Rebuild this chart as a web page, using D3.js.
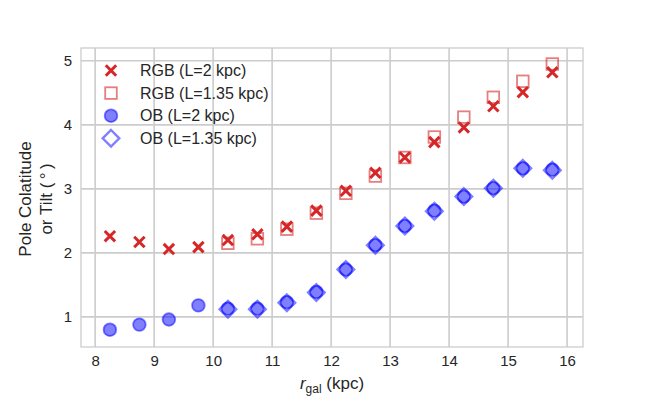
<!DOCTYPE html>
<html lang="en">
<head>
<meta charset="UTF-8">
<title>pole colatitude</title>
<script src="https://cdn.jsdelivr.net/npm/d3@7/dist/d3.min.js"></script>
<style>
  body { margin: 0; background: #fff; }
  text { font-family: "Liberation Sans", Arial, sans-serif; fill: #262626; }
</style>
</head>
<body>
<script>
// radii of the bins (kpc)
var rgal = [8.25, 8.75, 9.25, 9.75, 10.25, 10.75, 11.25, 11.75, 12.25, 12.75, 13.25, 13.75, 14.25, 14.75, 15.25, 15.75];
var rgalShort = rgal.slice(4); // the L=1.35 kpc runs start at 10.25

var rgbL2 = [2.26, 2.17, 2.06, 2.09, 2.20, 2.29, 2.41, 2.66, 2.97, 3.25, 3.49, 3.73, 3.96, 4.29, 4.51, 4.82];
var rgbL135 = [2.15, 2.22, 2.37, 2.62, 2.93, 3.20, 3.49, 3.81, 4.12, 4.43, 4.68, 4.95];
var obL2 = [0.80, 0.88, 0.96, 1.18, 1.13, 1.13, 1.23, 1.39, 1.74, 2.12, 2.42, 2.66, 2.88, 3.01, 3.32, 3.30];
var obL135 = [1.12, 1.12, 1.22, 1.38, 1.74, 2.12, 2.42, 2.65, 2.88, 3.01, 3.32, 3.29];

var xTicks = [8, 9, 10, 11, 12, 13, 14, 15, 16];
var yTicks = [1, 2, 3, 4, 5];
var legendLabels = ["RGB (L=2 kpc)", "RGB (L=1.35 kpc)", "OB (L=2 kpc)", "OB (L=1.35 kpc)"];

var W = 648, H = 396;
var m = {left: 81, right: 65, top: 48, bottom: 49};

var svg = d3.select("body").append("svg")
    .attr("width", W)
    .attr("height", H);

var x = d3.scaleLinear().domain([7.76, 16.27]).range([m.left, W - m.right]);
var y = d3.scaleLinear().domain([0.53, 5.2]).range([H - m.bottom, m.top]);

var red = "#d62728", blue = "#0000ff";

// grid
svg.append("g").selectAll("line").data(xTicks).enter().append("line")
    .attr("x1", d => x(d)).attr("x2", d => x(d))
    .attr("y1", m.top).attr("y2", H - m.bottom)
    .style("stroke", "#cccccc").style("stroke-width", 1.6);
svg.append("g").selectAll("line").data(yTicks).enter().append("line")
    .attr("y1", d => y(d)).attr("y2", d => y(d))
    .attr("x1", m.left).attr("x2", W - m.right)
    .style("stroke", "#cccccc").style("stroke-width", 1.6);

// frame
svg.append("rect")
    .attr("x", m.left).attr("y", m.top)
    .attr("width", W - m.left - m.right).attr("height", H - m.top - m.bottom)
    .style("fill", "none").style("stroke", "#cccccc").style("stroke-width", 1.3);

// axes (labels only, seaborn whitegrid has no tick marks)
var xAxis = svg.append("g")
    .attr("transform", "translate(0," + (H - m.bottom) + ")")
    .call(d3.axisBottom(x).tickValues(xTicks).tickSize(0).tickPadding(8).tickFormat(d3.format("d")));
var yAxis = svg.append("g")
    .attr("transform", "translate(" + m.left + ",0)")
    .call(d3.axisLeft(y).tickValues(yTicks).tickSize(0).tickPadding(9).tickFormat(d3.format("d")));
[xAxis, yAxis].forEach(function(a) {
    a.select(".domain").remove();
    a.selectAll("text").style("font-size", "15px").style("fill", "#262626")
        .style("font-family", "'Liberation Sans', Arial, sans-serif");
});

// marker drawing helpers
function drawX(g, cx, cy) {
    var s = 5.2;
    g.append("path")
        .attr("d", "M" + (cx - s) + "," + (cy - s) + "L" + (cx + s) + "," + (cy + s) +
                   "M" + (cx - s) + "," + (cy + s) + "L" + (cx + s) + "," + (cy - s))
        .style("stroke", red).style("stroke-width", 3).style("fill", "none");
}
function drawSquare(g, cx, cy) {
    var s = 5.8;
    g.append("rect")
        .attr("x", cx - s).attr("y", cy - s).attr("width", 2 * s).attr("height", 2 * s)
        .style("fill", "none").style("stroke", red).style("stroke-opacity", 0.6).style("stroke-width", 1.8);
}
function drawCircle(g, cx, cy) {
    g.append("circle")
        .attr("cx", cx).attr("cy", cy).attr("r", 6.3)
        .style("fill", blue).style("fill-opacity", 0.5)
        .style("stroke", blue).style("stroke-opacity", 0.5).style("stroke-width", 1.8);
}
function drawDiamond(g, cx, cy) {
    var s = 8.3;
    g.append("path")
        .attr("d", "M" + cx + "," + (cy - s) + "L" + (cx + s) + "," + cy + "L" + cx + "," + (cy + s) + "L" + (cx - s) + "," + cy + "Z")
        .style("fill", "none").style("stroke", blue).style("stroke-opacity", 0.5).style("stroke-width", 2.4)
        .style("stroke-linejoin", "miter");
}

var pts = svg.append("g");
rgalShort.forEach((r, i) => drawSquare(pts, x(r), y(rgbL135[i])));
rgal.forEach((r, i) => drawX(pts, x(r), y(rgbL2[i])));
rgal.forEach((r, i) => drawCircle(pts, x(r), y(obL2[i])));
rgalShort.forEach((r, i) => drawDiamond(pts, x(r), y(obL135[i])));

// legend
var leg = svg.append("g");
var drawers = [drawX, drawSquare, drawCircle, drawDiamond];
legendLabels.forEach(function(lab, i) {
    var ly = 70.5 + i * 22.6;
    drawers[i](leg, 111, ly);
    leg.append("text")
        .attr("x", 140).attr("y", ly)
        .attr("dy", "0.35em")
        .style("font-size", "16px")
        .text(lab);
});

// axis labels
var xl = svg.append("text")
    .attr("x", (m.left + W - m.right) / 2)
    .attr("y", 389)
    .attr("text-anchor", "middle")
    .style("font-size", "17px");
xl.append("tspan").style("font-style", "italic").text("r");
xl.append("tspan").attr("dy", 4).style("font-size", "12px").text("gal");
xl.append("tspan").attr("dy", -4).text(" (kpc)");

var yl = svg.append("text")
    .attr("transform", "translate(0," + 199 + ") rotate(-90)")
    .attr("text-anchor", "middle")
    .style("font-size", "17px");
yl.append("tspan").attr("x", 0).attr("y", 31).text("Pole Colatitude");
yl.append("tspan").attr("x", 0).attr("y", 52).text("or Tilt (\u2009\u00b0\u2009)");
</script>
</body>
</html>
